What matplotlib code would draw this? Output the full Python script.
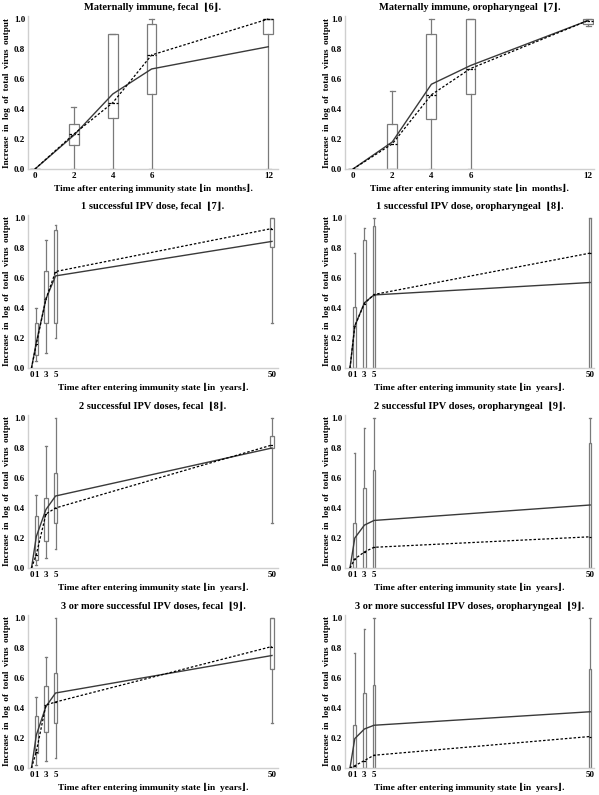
import matplotlib
matplotlib.use("Agg")
import matplotlib.pyplot as plt

plt.rcParams['font.family'] = ['Liberation Serif', 'DejaVu Serif', 'DejaVu Sans']
plt.rcParams['font.weight'] = 'bold'

months = [0, 2, 4, 6, 12]
years = [0, 1, 3, 5, 50]

titles = [
    "Maternally immune, fecal  \u230a6\u230b.",
    "Maternally immune, oropharyngeal  \u230a7\u230b.",
    "1 successful IPV dose, fecal  \u230a7\u230b.",
    "1 successful IPV dose, oropharyngeal  \u230a8\u230b.",
    "2 successful IPV doses, fecal  \u230a8\u230b.",
    "2 successful IPV doses, oropharyngeal  \u230a9\u230b.",
    "3 or more successful IPV doses, fecal  \u230a9\u230b.",
    "3 or more successful IPV doses, oropharyngeal  \u230a9\u230b.",
]

# box plot statistics per panel (whisker low, q1, q3, whisker high)
whis_lo = [
    [0, 0, 0, 0, 0],
    [0, 0, 0, 0, 0.955],
    [0, 0.05, 0.10, 0.20, 0.30],
    [0, 0, 0, 0, 0],
    [0, 0.02, 0.07, 0.127, 0.30],
    [0, 0, 0, 0, 0],
    [0, 0.02, 0.045, 0.07, 0.30],
    [0, 0, 0, 0, 0],
]
box_q1 = [
    [0, 0.16, 0.34, 0.50, 0.90],
    [0, 0, 0.335, 0.50, 0.97],
    [0, 0.09, 0.30, 0.30, 0.81],
    [0, 0, 0, 0, 0],
    [0, 0.056, 0.18, 0.297, 0.80],
    [0, 0, 0, 0, 0],
    [0, 0.10, 0.24, 0.30, 0.66],
    [0, 0, 0, 0, 0],
]
box_q3 = [
    [0, 0.30, 0.90, 0.965, 1.0],
    [0, 0.30, 0.90, 1.0, 1.0],
    [0, 0.30, 0.65, 0.92, 1.0],
    [0, 0.406, 0.853, 0.95, 1.0],
    [0, 0.346, 0.464, 0.636, 0.877],
    [0, 0.30, 0.536, 0.654, 0.833],
    [0, 0.346, 0.547, 0.634, 1.0],
    [0, 0.29, 0.50, 0.553, 0.66],
]
whis_hi = [
    [0, 0.415, 0.90, 1.0, 1.0],
    [0, 0.52, 1.0, 1.0, 1.0],
    [0, 0.40, 0.855, 0.953, 1.0],
    [0, 0.77, 0.933, 1.0, 1.0],
    [0, 0.49, 0.815, 1.0, 1.0],
    [0, 0.77, 0.935, 1.0, 1.0],
    [0, 0.473, 0.737, 1.0, 1.0],
    [0, 0.77, 0.93, 1.0, 1.0],
]
# dashed line: medians; solid line: model
medians = [
    [0, 0.233, 0.442, 0.76, 1.0],
    [0, 0.167, 0.495, 0.67, 0.99],
    [0, 0.16, 0.46, 0.643, 0.93],
    [0, 0.28, 0.43, 0.49, 0.766],
    [0, 0.09, 0.36, 0.40, 0.82],
    [0, 0.06, 0.107, 0.138, 0.208],
    [0, 0.11, 0.42, 0.44, 0.81],
    [0, 0.015, 0.05, 0.085, 0.21],
]
model = [
    [0, 0.225, 0.50, 0.667, 0.815],
    [0, 0.18, 0.565, 0.69, 0.99],
    [0, 0.17, 0.46, 0.614, 0.844],
    [0, 0.28, 0.435, 0.487, 0.57],
    [0, 0.21, 0.39, 0.48, 0.80],
    [0, 0.20, 0.286, 0.317, 0.42],
    [0, 0.22, 0.41, 0.50, 0.75],
    [0, 0.196, 0.26, 0.285, 0.375],
]

W, H = 599, 795
fig = plt.figure(figsize=(W / 100, H / 100), dpi=100)

grey = '#7a7a7a'
ylabel = "Increase  in  log  of  total  virus  output"

for i in range(8):
    row, col = divmod(i, 2)
    x0 = 28 if col == 0 else 345
    x1 = 278 if col == 0 else 594
    ybot = [169, 368, 568, 768][row]
    ytop = ybot - 150 * 1.02
    ax = fig.add_axes([x0 / W, 1 - ybot / H, (x1 - x0) / W, (ybot - ytop) / H])

    if row == 0:
        xs = months
        xlim = (-0.36, 12.5) if col == 0 else (-0.41, 12.3)
        width = 0.5
        xlab = "Time after entering immunity state \u230ain  months\u230b."
    else:
        xs = years
        xlim = (-0.73, 51.25) if col == 0 else (-1.04, 50.8)
        width = 0.7 if col == 0 else 0.55
        xlab = "Time after entering immunity state \u230ain  years\u230b."

    stats = []
    for j in range(len(xs)):
        stats.append(dict(whislo=whis_lo[i][j], q1=box_q1[i][j], med=medians[i][j],
                          q3=box_q3[i][j], whishi=whis_hi[i][j]))
    ax.bxp(stats, positions=xs, widths=width, showfliers=False, patch_artist=True,
           manage_ticks=False,
           boxprops=dict(facecolor='white', edgecolor=grey, linewidth=0.9),
           whiskerprops=dict(color=grey, linewidth=0.9),
           capprops=dict(color=grey, linewidth=0.9),
           medianprops=dict(color='black', linewidth=0.9, linestyle=(0, (2, 1.2))))

    ax.plot(xs, model[i], color='#3a3a3a', linewidth=1.0, zorder=4)
    ax.plot(xs, medians[i], color='black', linewidth=0.9, linestyle=(0, (2, 1.5)), zorder=4)

    ax.set_xlim(*xlim)
    ax.set_ylim(0, 1.02)
    ax.set_xticks(xs)
    ax.set_xticklabels([str(v) for v in xs])
    ax.set_yticks([0, 0.2, 0.4, 0.6, 0.8, 1.0])
    ax.set_yticklabels(["0.0", "0.2", "0.4", "0.6", "0.8", "1.0"])
    ax.tick_params(labelsize=6.5, length=0, pad=2)
    for s in ['top', 'right']:
        ax.spines[s].set_visible(False)
    for s in ['bottom', 'left']:
        ax.spines[s].set_color('#cfcfcf')
        ax.spines[s].set_linewidth(1.0)

    ax.set_title(titles[i], fontsize=7.5, fontweight='bold', pad=4)
    ax.set_xlabel(xlab, fontsize=6.8, fontweight='bold', labelpad=3)
    ax.set_ylabel(ylabel, fontsize=6.6, fontweight='bold')
    ax.yaxis.set_label_coords(-0.066 if col == 0 else -0.058, 0.5)

fig.savefig("out.png", dpi=100)
